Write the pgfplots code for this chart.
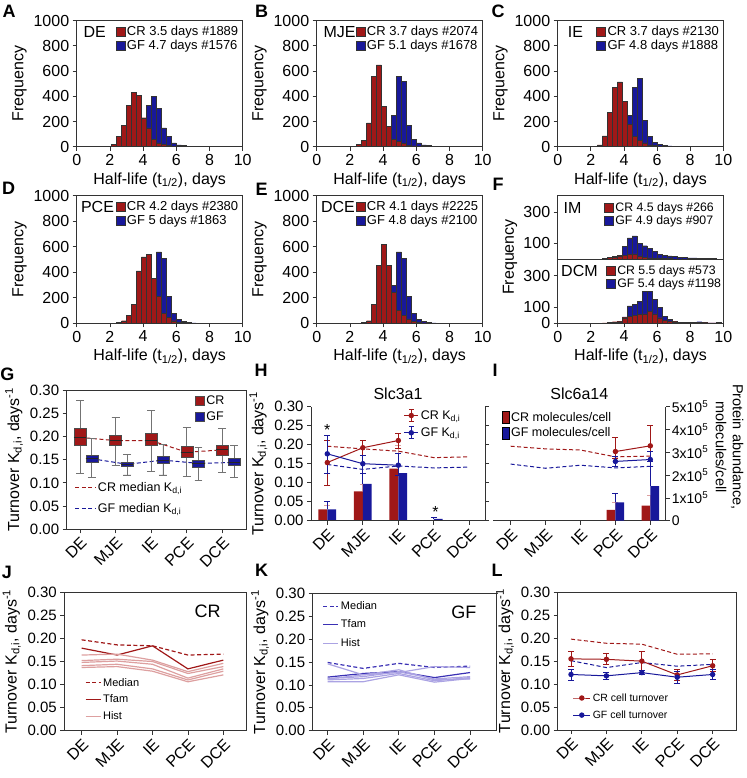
\documentclass[border=0pt]{standalone}
\usepackage{fontspec}
\setmainfont{Liberation Sans}
\usepackage{pgfplots}
\pgfplotsset{compat=1.18}
\usepgfplotslibrary{statistics}

\definecolor{crred}{HTML}{A01818}
\definecolor{gfblue}{HTML}{18189A}
\definecolor{crlight}{HTML}{DDA0A0}
\definecolor{gflight}{HTML}{ABA3E3}
\definecolor{gfmid}{HTML}{3A30B4}

\newcommand\fs[2]{\fontsize{#1}{#2}\selectfont}
\tikzset{tag/.style={anchor=north west, inner sep=0pt}}

\pgfplotsset{
  base/.style={scale only axis, anchor=north west, font=\fs{16}{19},
    axis line style={black!80, line width=0.8pt},
    every tick/.style={black!80, line width=0.8pt},
    tick align=outside, major tick length=4pt,
    /pgf/number format/assume math mode=true,
    /pgf/number format/1000 sep={},
    legend cell align=left,
    legend style={draw=none, fill=none, inner sep=0pt, outer sep=0pt},
  },
  sq/.style={legend image code/.code={\draw[##1] (0pt,-4.5pt) rectangle (9pt,4.5pt);}},
  tall/.style={legend image code/.code={\draw[##1] (0pt,-6pt) rectangle (7pt,6pt);}},
  shortline/.style={legend image code/.code={\draw[##1] (0pt,0pt) -- (15pt,0pt);}},
  longline/.style={legend image code/.code={\draw[##1] (0pt,0pt) -- (20pt,0pt);}},
  errleg/.style={legend image code/.code={
    \draw[mark repeat=2, mark phase=2, ##1] plot coordinates {(0pt,0pt)(7pt,0pt)(14pt,0pt)};
    \draw[##1, line width=0.8pt] (7pt,-6pt) -- (7pt,6pt) (4.5pt,6pt) -- (9.5pt,6pt) (4.5pt,-6pt) -- (9.5pt,-6pt);}},
  histo/.style={base, width=166pt, height=126pt, xmin=0, xmax=10, ymin=0, ymax=1000,
    xtick={0,2,4,6,8,10}, ytick={0,200,400,600,800,1000}, xtick pos=left, ytick pos=left,
    xlabel={Half-life (t\textsubscript{1/2}), days}, ylabel={Frequency},
    legend style={at={(0.985,0.975)}, anchor=north east, font=\fs{13}{14}, row sep=-1pt},
  },
  hb/.style={ybar interval, fill=gfblue, draw=black!80, line width=0.4pt, forget plot},
  hr/.style={ybar interval, fill=crred, draw=black!80, line width=0.4pt, forget plot},
  cat/.style={base, tick label style={font=\fs{15}{18}},
    xtick={0,1,2,3,4}, xticklabels={DE,MJE,IE,PCE,DCE},
    xticklabel style={rotate=45, anchor=north east, inner sep=2pt, font=\fs{16}{19}},
    xtick pos=left, ytick pos=left, ymin=0, ymax=0.3,
    ytick={0,0.05,0.1,0.15,0.2,0.25,0.3},
    yticklabel style={/pgf/number format/.cd, fixed, fixed zerofill, precision=2},
    ylabel={Turnover K\textsubscript{d,i}, days\textsuperscript{-1}},
  },
  med/.style={dashed, dash pattern=on 4pt off 2.5pt, line width=1pt},
}

\begin{document}
\begin{tikzpicture}
\useasboundingbox (0,0) rectangle (746pt,-778pt);

% ---------- A ----------
\begin{axis}[histo, at={(76.7pt,-20.7pt)}]
\addplot[hb] coordinates {(2.7,5)(3.0,15)(3.3,40)(3.6,100)(3.9,200)(4.2,330)(4.5,400)(4.8,305)(5.1,150)(5.4,80)(5.7,30)(6.0,15)(6.3,8)(6.6,4)(6.9,2)(7.2,0)};
\addplot[hr] coordinates {(1.8,4)(2.1,20)(2.4,80)(2.7,170)(3.0,330)(3.3,430)(3.6,410)(3.9,230)(4.2,150)(4.5,60)(4.8,30)(5.1,18)(5.4,8)(5.7,4)(6.0,2)(6.3,0)};
\addlegendimage{sq, fill=crred, draw=black!80}
\addlegendentry{CR 3.5 days \#1889}
\addlegendimage{sq, fill=gfblue, draw=black!80}
\addlegendentry{GF 4.7 days \#1576}
\node[tag] at (rel axis cs:0.04,0.955) {DE};
\end{axis}

% ---------- B ----------
\begin{axis}[histo, at={(316.7pt,-20.7pt)}]
\addplot[hb] coordinates {(3.3,5)(3.6,10)(3.9,40)(4.2,160)(4.5,250)(4.8,560)(5.1,520)(5.4,170)(5.7,60)(6.0,30)(6.3,15)(6.6,8)(6.9,5)(7.2,3)(7.5,0)};
\addplot[hr] coordinates {(2.1,3)(2.4,20)(2.7,50)(3.0,190)(3.3,560)(3.6,650)(3.9,320)(4.2,160)(4.5,60)(4.8,40)(5.1,25)(5.4,12)(5.7,6)(6.0,3)(6.3,0)};
\addlegendimage{sq, fill=crred, draw=black!80}
\addlegendentry{CR 3.7 days \#2074}
\addlegendimage{sq, fill=gfblue, draw=black!80}
\addlegendentry{GF 5.1 days \#1678}
\node[tag] at (rel axis cs:0.04,0.955) {MJE};
\end{axis}

% ---------- C ----------
\begin{axis}[histo, at={(557.7pt,-20.7pt)}, width=165.6pt]
\addplot[hb] coordinates {(3.6,20)(3.9,150)(4.2,250)(4.5,470)(4.8,540)(5.1,210)(5.4,80)(5.7,35)(6.0,20)(6.3,10)(6.6,7)(6.9,5)(7.2,3)(7.5,0)};
\addplot[hr] coordinates {(2.1,3)(2.4,15)(2.7,85)(3.0,275)(3.3,470)(3.6,515)(3.9,360)(4.2,180)(4.5,80)(4.8,50)(5.1,30)(5.4,15)(5.7,8)(6.0,4)(6.3,0)};
\addlegendimage{sq, fill=crred, draw=black!80}
\addlegendentry{CR 3.7 days \#2130}
\addlegendimage{sq, fill=gfblue, draw=black!80}
\addlegendentry{GF 4.8 days \#1888}
\node[tag] at (rel axis cs:0.06,0.955) {IE};
\end{axis}

% ---------- D ----------
\begin{axis}[histo, at={(76.7pt,-195.7pt)}, height=127.6pt]
\addplot[hb] coordinates {(3.6,10)(3.9,40)(4.2,150)(4.5,350)(4.8,560)(5.1,510)(5.4,210)(5.7,80)(6.0,30)(6.3,15)(6.6,8)(6.9,4)(7.2,0)};
\addplot[hr] coordinates {(2.4,5)(2.7,20)(3.0,60)(3.3,150)(3.6,410)(3.9,520)(4.2,540)(4.5,350)(4.8,210)(5.1,80)(5.4,45)(5.7,20)(6.0,10)(6.3,5)(6.6,0)};
\addlegendimage{sq, fill=crred, draw=black!80}
\addlegendentry{CR 4.2 days \#2380}
\addlegendimage{sq, fill=gfblue, draw=black!80}
\addlegendentry{GF 5 days \#1863}
\node[tag] at (rel axis cs:0.025,0.955) {PCE};
\end{axis}

% ---------- E ----------
\begin{axis}[histo, at={(316.7pt,-195.7pt)}, height=127.6pt]
\addplot[hb] coordinates {(3.6,10)(3.9,40)(4.2,150)(4.5,300)(4.8,560)(5.1,510)(5.4,210)(5.7,80)(6.0,30)(6.3,15)(6.6,8)(6.9,4)(7.2,0)};
\addplot[hr] coordinates {(2.7,5)(3.0,20)(3.3,150)(3.6,455)(3.9,620)(4.2,455)(4.5,245)(4.8,100)(5.1,60)(5.4,35)(5.7,18)(6.0,8)(6.3,4)(6.6,0)};
\addlegendimage{sq, fill=crred, draw=black!80}
\addlegendentry{CR 4.1 days \#2225}
\addlegendimage{sq, fill=gfblue, draw=black!80}
\addlegendentry{GF 4.8 days \#2100}
\node[tag] at (rel axis cs:0.025,0.955) {DCE};
\end{axis}

% ---------- F (IM) ----------
\begin{axis}[histo, at={(557.7pt,-195.7pt)}, width=165.6pt, height=63.3pt,
  ymax=405, ytick={100,300}, xtick=\empty, xlabel={}, ylabel={},
  legend style={at={(0.955,0.93)}, font=\fs{12.3}{13.5}}]
\addplot[hb] coordinates {(3.0,12)(3.3,15)(3.6,25)(3.9,80)(4.2,135)(4.5,148)(4.8,100)(5.1,85)(5.4,70)(5.7,50)(6.0,30)(6.3,25)(6.6,20)(6.9,15)(7.2,12)(7.5,10)(7.8,8)(8.1,8)(8.4,6)(8.7,5)(9.0,4)(9.3,3)(9.6,0)};
\addplot[hr] coordinates {(2.7,3)(3.0,10)(3.3,12)(3.6,20)(3.9,25)(4.2,30)(4.5,32)(4.8,20)(5.1,10)(5.4,8)(5.7,5)(6.0,4)(6.3,3)(6.6,2)(6.9,0)};
\addlegendimage{sq, fill=crred, draw=black!80}
\addlegendentry{CR 4.5 days \#266}
\addlegendimage{sq, fill=gfblue, draw=black!80}
\addlegendentry{GF 4.9 days \#907}
\node[tag] at (rel axis cs:0.035,0.9) {IM};
\end{axis}

% ---------- F (DCM) ----------
\begin{axis}[histo, at={(557.7pt,-259pt)}, width=165.6pt, height=64.3pt,
  ymax=405, ytick={0,100,300}, ylabel={},
  legend style={at={(0.998,0.93)}, font=\fs{12.3}{13.5}}]
\addplot[hb] coordinates {(3.0,5)(3.3,8)(3.6,12)(3.9,40)(4.2,110)(4.5,120)(4.8,140)(5.1,200)(5.4,200)(5.7,150)(6.0,100)(6.3,45)(6.6,25)(6.9,12)(7.2,8)(7.5,6)(7.8,5)(8.1,4)(8.4,10)(8.7,4)(9.0,3)(9.3,3)(9.6,5)(9.9,0)};
\addplot[hr] coordinates {(2.7,3)(3.0,5)(3.3,10)(3.6,10)(3.9,35)(4.2,45)(4.5,50)(4.8,55)(5.1,60)(5.4,75)(5.7,60)(6.0,35)(6.3,20)(6.6,15)(6.9,10)(7.2,8)(7.5,6)(7.8,5)(8.1,4)(8.4,8)(8.7,3)(9.0,2)(9.3,2)(9.6,4)(9.9,0)};
\addlegendimage{sq, fill=crred, draw=black!80}
\addlegendentry{CR 5.5 days \#573}
\addlegendimage{sq, fill=gfblue, draw=black!80}
\addlegendentry{GF 5.4 days \#1198}
\node[tag] at (rel axis cs:0.02,0.9) {DCM};
\end{axis}
\node[rotate=90, font=\fs{16}{19}] at (510pt,-257pt) {Frequency};

% ---------- G ----------
\begin{axis}[cat, at={(66.7pt,-390pt)}, width=180pt, height=139.3pt,
  xmin=-0.374, xmax=4.685, hide axis, ylabel={},
  legend style={at={(0.046,0.35)}, anchor=north west, font=\fs{12.5}{14}, row sep=6pt,
    /tikz/every even column/.append style={column sep=3pt}}]
\addplot[longline, crred, med] coordinates {(0,0.198)(1,0.191)(2,0.191)(3,0.166)(4,0.171)};
\addlegendentry{CR median K\textsubscript{d,i}}
\addplot[longline, gfblue, med] coordinates {(0.33,0.152)(1.33,0.140)(2.33,0.149)(3.33,0.142)(4.33,0.144)};
\addlegendentry{GF median K\textsubscript{d,i}}
\end{axis}
\begin{axis}[cat, at={(66.7pt,-390pt)}, width=180pt, height=139.3pt,
  xmin=-0.374, xmax=4.685,
  boxplot/draw direction=y,
  boxplot/every whisker/.style={black!55, line width=0.8pt},
  boxplot/every median/.style={black!85, line width=0.9pt},
  legend style={at={(0.713,0.971)}, anchor=north west, font=\fs{12.5}{14}, row sep=1pt,
    /tikz/every even column/.append style={column sep=3pt}}]
\addplot[forget plot, fill=crred, draw=black!70, boxplot prepared={draw position=0, lower whisker=0.121, lower quartile=0.182, median=0.198, upper quartile=0.2175, upper whisker=0.277, box extend=0.34, whisker extend=0.22}] coordinates {};
\addplot[forget plot, fill=crred, draw=black!70, boxplot prepared={draw position=1, lower whisker=0.137, lower quartile=0.182, median=0.191, upper quartile=0.203, upper whisker=0.240, box extend=0.34, whisker extend=0.22}] coordinates {};
\addplot[forget plot, fill=crred, draw=black!70, boxplot prepared={draw position=2, lower whisker=0.124, lower quartile=0.182, median=0.191, upper quartile=0.207, upper whisker=0.256, box extend=0.34, whisker extend=0.22}] coordinates {};
\addplot[forget plot, fill=crred, draw=black!70, boxplot prepared={draw position=3, lower whisker=0.113, lower quartile=0.156, median=0.166, upper quartile=0.179, upper whisker=0.220, box extend=0.34, whisker extend=0.22}] coordinates {};
\addplot[forget plot, fill=crred, draw=black!70, boxplot prepared={draw position=4, lower whisker=0.123, lower quartile=0.160, median=0.171, upper quartile=0.182, upper whisker=0.218, box extend=0.34, whisker extend=0.22}] coordinates {};
\addplot[forget plot, fill=gfblue, draw=black!70, boxplot prepared={draw position=0.33, lower whisker=0.111, lower quartile=0.144, median=0.152, upper quartile=0.160, upper whisker=0.195, box extend=0.34, whisker extend=0.22}] coordinates {};
\addplot[forget plot, fill=gfblue, draw=black!70, boxplot prepared={draw position=1.33, lower whisker=0.117, lower quartile=0.136, median=0.140, upper quartile=0.144, upper whisker=0.162, box extend=0.34, whisker extend=0.22}] coordinates {};
\addplot[forget plot, fill=gfblue, draw=black!70, boxplot prepared={draw position=2.33, lower whisker=0.117, lower quartile=0.142, median=0.149, upper quartile=0.157, upper whisker=0.183, box extend=0.34, whisker extend=0.22}] coordinates {};
\addplot[forget plot, fill=gfblue, draw=black!70, boxplot prepared={draw position=3.33, lower whisker=0.106, lower quartile=0.133, median=0.142, upper quartile=0.149, upper whisker=0.176, box extend=0.34, whisker extend=0.22}] coordinates {};
\addplot[forget plot, fill=gfblue, draw=black!70, boxplot prepared={draw position=4.33, lower whisker=0.111, lower quartile=0.137, median=0.144, upper quartile=0.153, upper whisker=0.180, box extend=0.34, whisker extend=0.22}] coordinates {};
\addlegendimage{sq, fill=crred, draw=black!70}
\addlegendentry{CR}
\addlegendimage{sq, fill=gfblue, draw=black!70}
\addlegendentry{GF}
\end{axis}

% ---------- H ----------
\begin{axis}[base, at={(311pt,-406.7pt)}, width=174pt, height=114pt,
  xmin=-0.459, xmax=4.442, ymin=0, ymax=5e5, hide axis]
\addplot[ybar, bar width=0.25, bar shift=-0.125, fill=crred, draw=none,
  error bars/.cd, y dir=plus, y explicit, error bar style={crlight, line width=0.8pt},
  error mark options={rotate=90, mark size=3pt, crlight, line width=0.8pt}]
  coordinates {(0,5.0e4) +- (0,1.9e4) (1,1.29e5) +- (0,3.2e4) (2,2.28e5) +- (0,1.04e5) (3,3e3) +- (0,0)};
\addplot[ybar, bar width=0.25, bar shift=0.125, fill=gfblue, draw=none,
  error bars/.cd, y dir=plus, y explicit, error bar style={gfblue, line width=0.8pt},
  error mark options={rotate=90, mark size=3pt, gfblue, line width=0.8pt}]
  coordinates {(0,5.0e4) +- (0,3.3e4) (1,1.61e5) +- (0,1.27e5) (2,2.09e5) +- (0,8.5e4) (3,8e3) +- (0,7e3) (4,3e3) +- (0,0)};
\end{axis}
\begin{axis}[cat, at={(311pt,-406.7pt)}, width=174pt, height=114pt,
  xmin=-0.459, xmax=4.442, axis x line*=bottom, axis y line*=box,
  ytick pos=both, yticklabel pos=left, title={Slc3a1},
  title style={font=\fs{16}{19}, yshift=-2pt},
  legend style={at={(0.87,0.985)}, anchor=north east, font=\fs{12.5}{14}, row sep=3pt,
    /tikz/every even column/.append style={column sep=2pt}}]
\addplot[forget plot, crred, med] coordinates {(0,0.196)(1,0.189)(2,0.183)(3,0.166)(4,0.168)};
\addplot[forget plot, gfblue, med] coordinates {(0,0.148)(1,0.135)(2,0.144)(3,0.139)(4,0.141)};
\addplot[forget plot, crred, mark=*, mark size=2.2pt, line width=1pt,
  error bars/.cd, y dir=both, y explicit, error bar style={crred, line width=0.8pt},
  error mark options={rotate=90, mark size=3pt, crred, line width=0.8pt}]
  coordinates {(0,0.153) += (0,0.058) -= (0,0.059) (1,0.192) += (0,0.019) -= (0,0.019) (2,0.211) += (0,0.019) -= (0,0.021)};
\addplot[forget plot, gfblue, mark=*, mark size=2.2pt, line width=1pt,
  error bars/.cd, y dir=both, y explicit, error bar style={gfblue, line width=0.8pt},
  error mark options={rotate=90, mark size=3pt, gfblue, line width=0.8pt}]
  coordinates {(0,0.176) += (0,0.049) -= (0,0.051) (1,0.150) += (0,0.023) -= (0,0.025) (2,0.146) += (0,0.030) -= (0,0.028)};
\addlegendimage{errleg, crred, mark=*, mark size=2.2pt, line width=1pt}
\addlegendentry{CR K\textsubscript{d,i}}
\addlegendimage{errleg, gfblue, mark=*, mark size=2.2pt, line width=1pt}
\addlegendentry{GF K\textsubscript{d,i}}
\node[font=\fs{16}{16}] at (axis cs:0,0.238) {*};
\node[font=\fs{16}{16}] at (axis cs:3.05,0.022) {*};
\end{axis}

% ---------- I ----------
\begin{axis}[cat, at={(493pt,-406.7pt)}, width=172.7pt, height=114pt,
  xmin=-0.507, xmax=4.441, ymin=0, ymax=5e5,
  axis x line*=bottom, axis y line*=right, ytick pos=right, yticklabel pos=right,
  ylabel={}, scaled y ticks=false,
  yticklabel style={/tikz/font=\fs{14}{16}, /tikz/inner sep=2pt},
  ytick={0,1e5,2e5,3e5,4e5,5e5},
  yticklabels={0,1x10\textsuperscript{5},2x10\textsuperscript{5},3x10\textsuperscript{5},4x10\textsuperscript{5},5x10\textsuperscript{5}},
  title={Slc6a14}, title style={font=\fs{16}{19}, yshift=-2pt},
  legend style={at={(0.05,0.97)}, anchor=north west, font=\fs{12.5}{14}, row sep=1pt,
    /tikz/every even column/.append style={column sep=4pt}}]
\addplot[forget plot, ybar, bar width=0.25, bar shift=-0.125, fill=crred, draw=none,
  error bars/.cd, y dir=plus, y explicit, error bar style={crlight, line width=0.8pt},
  error mark options={rotate=90, mark size=3pt, crlight, line width=0.8pt}]
  coordinates {(3,4.7e4) +- (0,3.2e4) (4,6.6e4) +- (0,4.4e4)};
\addplot[forget plot, ybar, bar width=0.25, bar shift=0.125, fill=gfblue, draw=none,
  error bars/.cd, y dir=plus, y explicit, error bar style={gfblue, line width=0.8pt},
  error mark options={rotate=90, mark size=3pt, gfblue, line width=0.8pt}]
  coordinates {(3,8.0e4) +- (0,4.1e4) (4,1.52e5) +- (0,1.1e5)};
\addlegendimage{tall, fill=crred, draw=none}
\addlegendentry{CR molecules/cell}
\addlegendimage{tall, fill=gfblue, draw=none}
\addlegendentry{GF molecules/cell}
\end{axis}
\begin{axis}[base, at={(493pt,-406.7pt)}, width=172.7pt, height=114pt,
  xmin=-0.507, xmax=4.441, ymin=0, ymax=0.3, hide axis]
\addplot[crred, med] coordinates {(0,0.196)(1,0.189)(2,0.186)(3,0.168)(4,0.170)};
\addplot[gfblue, med] coordinates {(0,0.149)(1,0.138)(2,0.146)(3,0.139)(4,0.143)};
\addplot[crred, mark=*, mark size=2.2pt, line width=1pt,
  error bars/.cd, y dir=both, y explicit, error bar style={crred, line width=0.8pt},
  error mark options={rotate=90, mark size=3pt, crred, line width=0.8pt}]
  coordinates {(3,0.182) += (0,0.037) -= (0,0.018) (4,0.197) += (0,0.055) -= (0,0.055)};
\addplot[gfblue, mark=*, mark size=2.2pt, line width=1pt,
  error bars/.cd, y dir=both, y explicit, error bar style={gfblue, line width=0.8pt},
  error mark options={rotate=90, mark size=3pt, gfblue, line width=0.8pt}]
  coordinates {(3,0.156) += (0,0.012) -= (0,0.014) (4,0.161) += (0,0.021) -= (0,0.019)};
\end{axis}
\node[rotate=-90, align=center, font=\fs{14.5}{17}, inner sep=0pt] at (729.5pt,-447pt) {Protein abundance,\\molecules/cell};

% ---------- J ----------
\begin{axis}[cat, at={(64.3pt,-592.3pt)}, width=182.4pt, height=138.4pt,
  xmin=-0.49, xmax=4.66,
  legend style={at={(0.113,0.395)}, anchor=north west, font=\fs{11}{13}, row sep=3.5pt,
    /tikz/every even column/.append style={column sep=8pt}}]
\addplot[shortline, crred, med, line width=1.2pt] coordinates {(0,0.197)(1,0.186)(2,0.184)(3,0.164)(4,0.166)};
\addlegendentry{Median}
\addplot[shortline, crred, line width=1.2pt] coordinates {(0,0.179)(1,0.164)(2,0.184)(3,0.134)(4,0.153)};
\addlegendentry{Tfam}
\addplot[shortline, crlight, line width=1.2pt] coordinates {(0,0.164)(1,0.166)(2,0.153)(3,0.128)(4,0.146)};
\addlegendentry{Hist}
\addplot[crlight, line width=1.2pt, forget plot] coordinates {(0,0.152)(1,0.155)(2,0.150)(3,0.124)(4,0.139)};
\addplot[crlight, line width=1.2pt, forget plot] coordinates {(0,0.148)(1,0.151)(2,0.144)(3,0.114)(4,0.134)};
\addplot[crlight, line width=1.2pt, forget plot] coordinates {(0,0.141)(1,0.144)(2,0.134)(3,0.110)(4,0.129)};
\addplot[crlight, line width=1.2pt, forget plot] coordinates {(0,0.137)(1,0.139)(2,0.129)(3,0.106)(4,0.121)};
\node[font=\fs{18}{20}] at (rel axis cs:0.786,0.865) {CR};
\end{axis}

% ---------- K ----------
\begin{axis}[cat, at={(312.7pt,-593.3pt)}, width=183.3pt, height=137.4pt,
  xmin=-0.42, xmax=4.73,
  legend style={at={(0.055,0.955)}, anchor=north west, font=\fs{11}{13}, row sep=5pt,
    /tikz/every even column/.append style={column sep=8pt}}]
\addplot[shortline, gfmid, med, line width=1.2pt] coordinates {(0,0.149)(1,0.136)(2,0.147)(3,0.138)(4,0.141)};
\addlegendentry{Median}
\addplot[shortline, gfmid, line width=1.2pt] coordinates {(0,0.117)(1,0.125)(2,0.129)(3,0.116)(4,0.127)};
\addlegendentry{Tfam}
\addplot[shortline, gflight, line width=1.2pt] coordinates {(0,0.146)(1,0.122)(2,0.127)(3,0.140)(4,0.138)};
\addlegendentry{Hist}
\addplot[gflight, line width=1.2pt, forget plot] coordinates {(0,0.114)(1,0.118)(2,0.129)(3,0.113)(4,0.118)};
\addplot[gflight, line width=1.2pt, forget plot] coordinates {(0,0.111)(1,0.114)(2,0.125)(3,0.109)(4,0.116)};
\addplot[gflight, line width=1.2pt, forget plot] coordinates {(0,0.107)(1,0.107)(2,0.122)(3,0.106)(4,0.114)};
\addplot[gflight, line width=1.2pt, forget plot] coordinates {(0,0.113)(1,0.122)(2,0.133)(3,0.111)(4,0.113)};
\node[font=\fs{18}{20}] at (rel axis cs:0.825,0.86) {GF};
\end{axis}

% ---------- L ----------
\begin{axis}[cat, at={(557.7pt,-592.3pt)}, width=179pt, height=137.7pt,
  xmin=-0.376, xmax=4.68,
  legend style={at={(0.084,0.28)}, anchor=north west, font=\fs{10.5}{12.5}, row sep=4pt,
    /tikz/every even column/.append style={column sep=8pt}}]
\addplot[forget plot, crred, med] coordinates {(0,0.198)(1,0.189)(2,0.187)(3,0.165)(4,0.166)};
\addplot[forget plot, gfblue, med] coordinates {(0,0.151)(1,0.136)(2,0.147)(3,0.139)(4,0.143)};
\addplot[crred, mark=*, mark size=2.2pt, line width=1pt,
  error bars/.cd, y dir=both, y explicit, error bar style={crred, line width=0.8pt},
  error mark options={rotate=90, mark size=3pt, crred, line width=0.8pt}]
  coordinates {(0,0.155) += (0,0.017) -= (0,0.017) (1,0.154) += (0,0.012) -= (0,0.012) (2,0.150) += (0,0.021) -= (0,0.021) (3,0.120) += (0,0.011) -= (0,0.011) (4,0.140) += (0,0.014) -= (0,0.013)};
\addlegendentry{CR cell turnover}
\addplot[gfblue, mark=*, mark size=2.2pt, line width=1pt,
  error bars/.cd, y dir=both, y explicit, error bar style={gfblue, line width=0.8pt},
  error mark options={rotate=90, mark size=3pt, gfblue, line width=0.8pt}]
  coordinates {(0,0.121) += (0,0.011) -= (0,0.014) (1,0.118) += (0,0.007) -= (0,0.007) (2,0.125) += (0,0.004) -= (0,0.004) (3,0.115) += (0,0.012) -= (0,0.013) (4,0.121) += (0,0.010) -= (0,0.010)};
\addlegendentry{GF cell turnover}
\end{axis}

% ---------- panel letters ----------
\begin{scope}[every node/.style={font=\bfseries\fs{18}{20}}]
\node at (9pt,-11pt) {A};
\node at (261.5pt,-11pt) {B};
\node at (498pt,-11pt) {C};
\node at (8.5pt,-188pt) {D};
\node at (261.5pt,-189pt) {E};
\node at (498pt,-184pt) {F};
\node at (7.5pt,-374pt) {G};
\node at (261pt,-370pt) {H};
\node at (495pt,-370pt) {I};
\node at (7pt,-572pt) {J};
\node at (261.5pt,-570pt) {K};
\node at (497pt,-570pt) {L};
\end{scope}
\end{tikzpicture}
\end{document}
